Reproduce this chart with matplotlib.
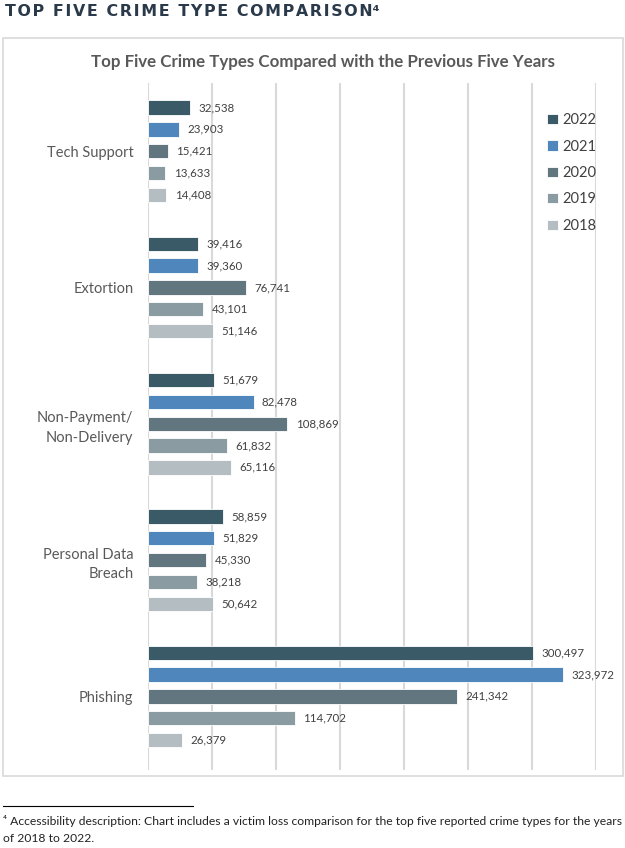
import numpy as np
import matplotlib.pyplot as plt
from matplotlib.patches import Rectangle
from matplotlib.lines import Line2D

# data
crime_types = ["Tech Support", "Extortion", "Non-Payment/\nNon-Delivery", "Personal Data\nBreach", "Phishing"]
years = ["2022", "2021", "2020", "2019", "2018"]
v2022 = [32538, 39416, 51679, 58859, 300497]
v2021 = [23903, 39360, 82478, 51829, 323972]
v2020 = [15421, 76741, 108869, 45330, 241342]
v2019 = [13633, 43101, 61832, 38218, 114702]
v2018 = [14408, 51146, 65116, 50642, 26379]

series = [v2022, v2021, v2020, v2019, v2018]
colors = ["#3A5A68", "#4F87BD", "#61767F", "#8A9BA1", "#B3BDC2"]

plt.rcParams['font.family'] = ['Lato', 'DejaVu Sans']

fig = plt.figure(figsize=(6.25, 8.48), dpi=100)

# outer chart frame
fig.patches.append(Rectangle((3 / 625, 1 - 776 / 848), 620 / 625, 738 / 848,
                             transform=fig.transFigure, fill=False,
                             edgecolor="#D9D9D9", linewidth=1.2))

ax = fig.add_axes([148 / 625, 1 - 770 / 848, 448 / 625, 687 / 848])

y = np.arange(len(crime_types))
step = 0.16
bar_h = 0.105
for i, (vals, yr, col) in enumerate(zip(series, years, colors)):
    pos = y + (i - 2) * step
    bars = ax.barh(pos, vals, height=bar_h, color=col, edgecolor="white",
                   linewidth=0.6, label=yr, zorder=3)
    for b, v in zip(bars, vals):
        ax.annotate(f"{v:,}", (v, b.get_y() + b.get_height() / 2),
                    xytext=(6, 0), textcoords="offset points",
                    va="center", ha="left", fontsize=8.3, color="#404040")

ax.set_xlim(0, 350000)
ax.set_ylim(4.54, -0.5)
ax.set_xticks(np.arange(0, 350001, 50000))
ax.xaxis.grid(True, color="#D9D9D9", linewidth=1.5, zorder=0)
ax.set_axisbelow(True)
ax.tick_params(axis="x", length=0, labelbottom=False)
ax.set_yticks(y)
ax.set_yticklabels(crime_types, fontsize=10.5, color="#595959", linespacing=1.5)
ax.tick_params(axis="y", length=0, pad=10.5)
for s in ax.spines.values():
    s.set_visible(False)

leg = ax.legend(loc="upper left", bbox_to_anchor=(540 / 625, 1 - 106 / 848),
                bbox_transform=fig.transFigure, frameon=False, fontsize=10.5,
                handlelength=0.7, handleheight=0.7, handletextpad=0.3,
                labelspacing=0.85, borderpad=0)
for t in leg.get_texts():
    t.set_color("#404040")

fig.text(323 / 625, 1 - 62 / 848, "Top Five Crime Types Compared with the Previous Five Years",
         ha="center", va="center", fontsize=12.2, fontweight="bold", color="#595959")

header = "TOP FIVE CRIME TYPE COMPARISON"
fig.text(5 / 625, 1 - 11 / 848, "\u200a".join(header) + "\u2074",
         ha="left", va="center", fontsize=11.4, fontweight="bold", color="#2B3A4A",
         family=['DejaVu Sans'])

fig.add_artist(Line2D([3 / 625, 193 / 625], [1 - 806 / 848, 1 - 806 / 848],
                      transform=fig.transFigure, color="black", linewidth=0.8))
fig.text(3 / 625, 1 - 821 / 848,
         "\u2074 Accessibility description: Chart includes a victim loss comparison for the top five reported crime types for the years",
         ha="left", va="center", fontsize=8.7, color="#222222")
fig.text(3 / 625, 1 - 838 / 848, "of 2018 to 2022.",
         ha="left", va="center", fontsize=8.7, color="#222222")

fig.savefig("out.png", dpi=100)
